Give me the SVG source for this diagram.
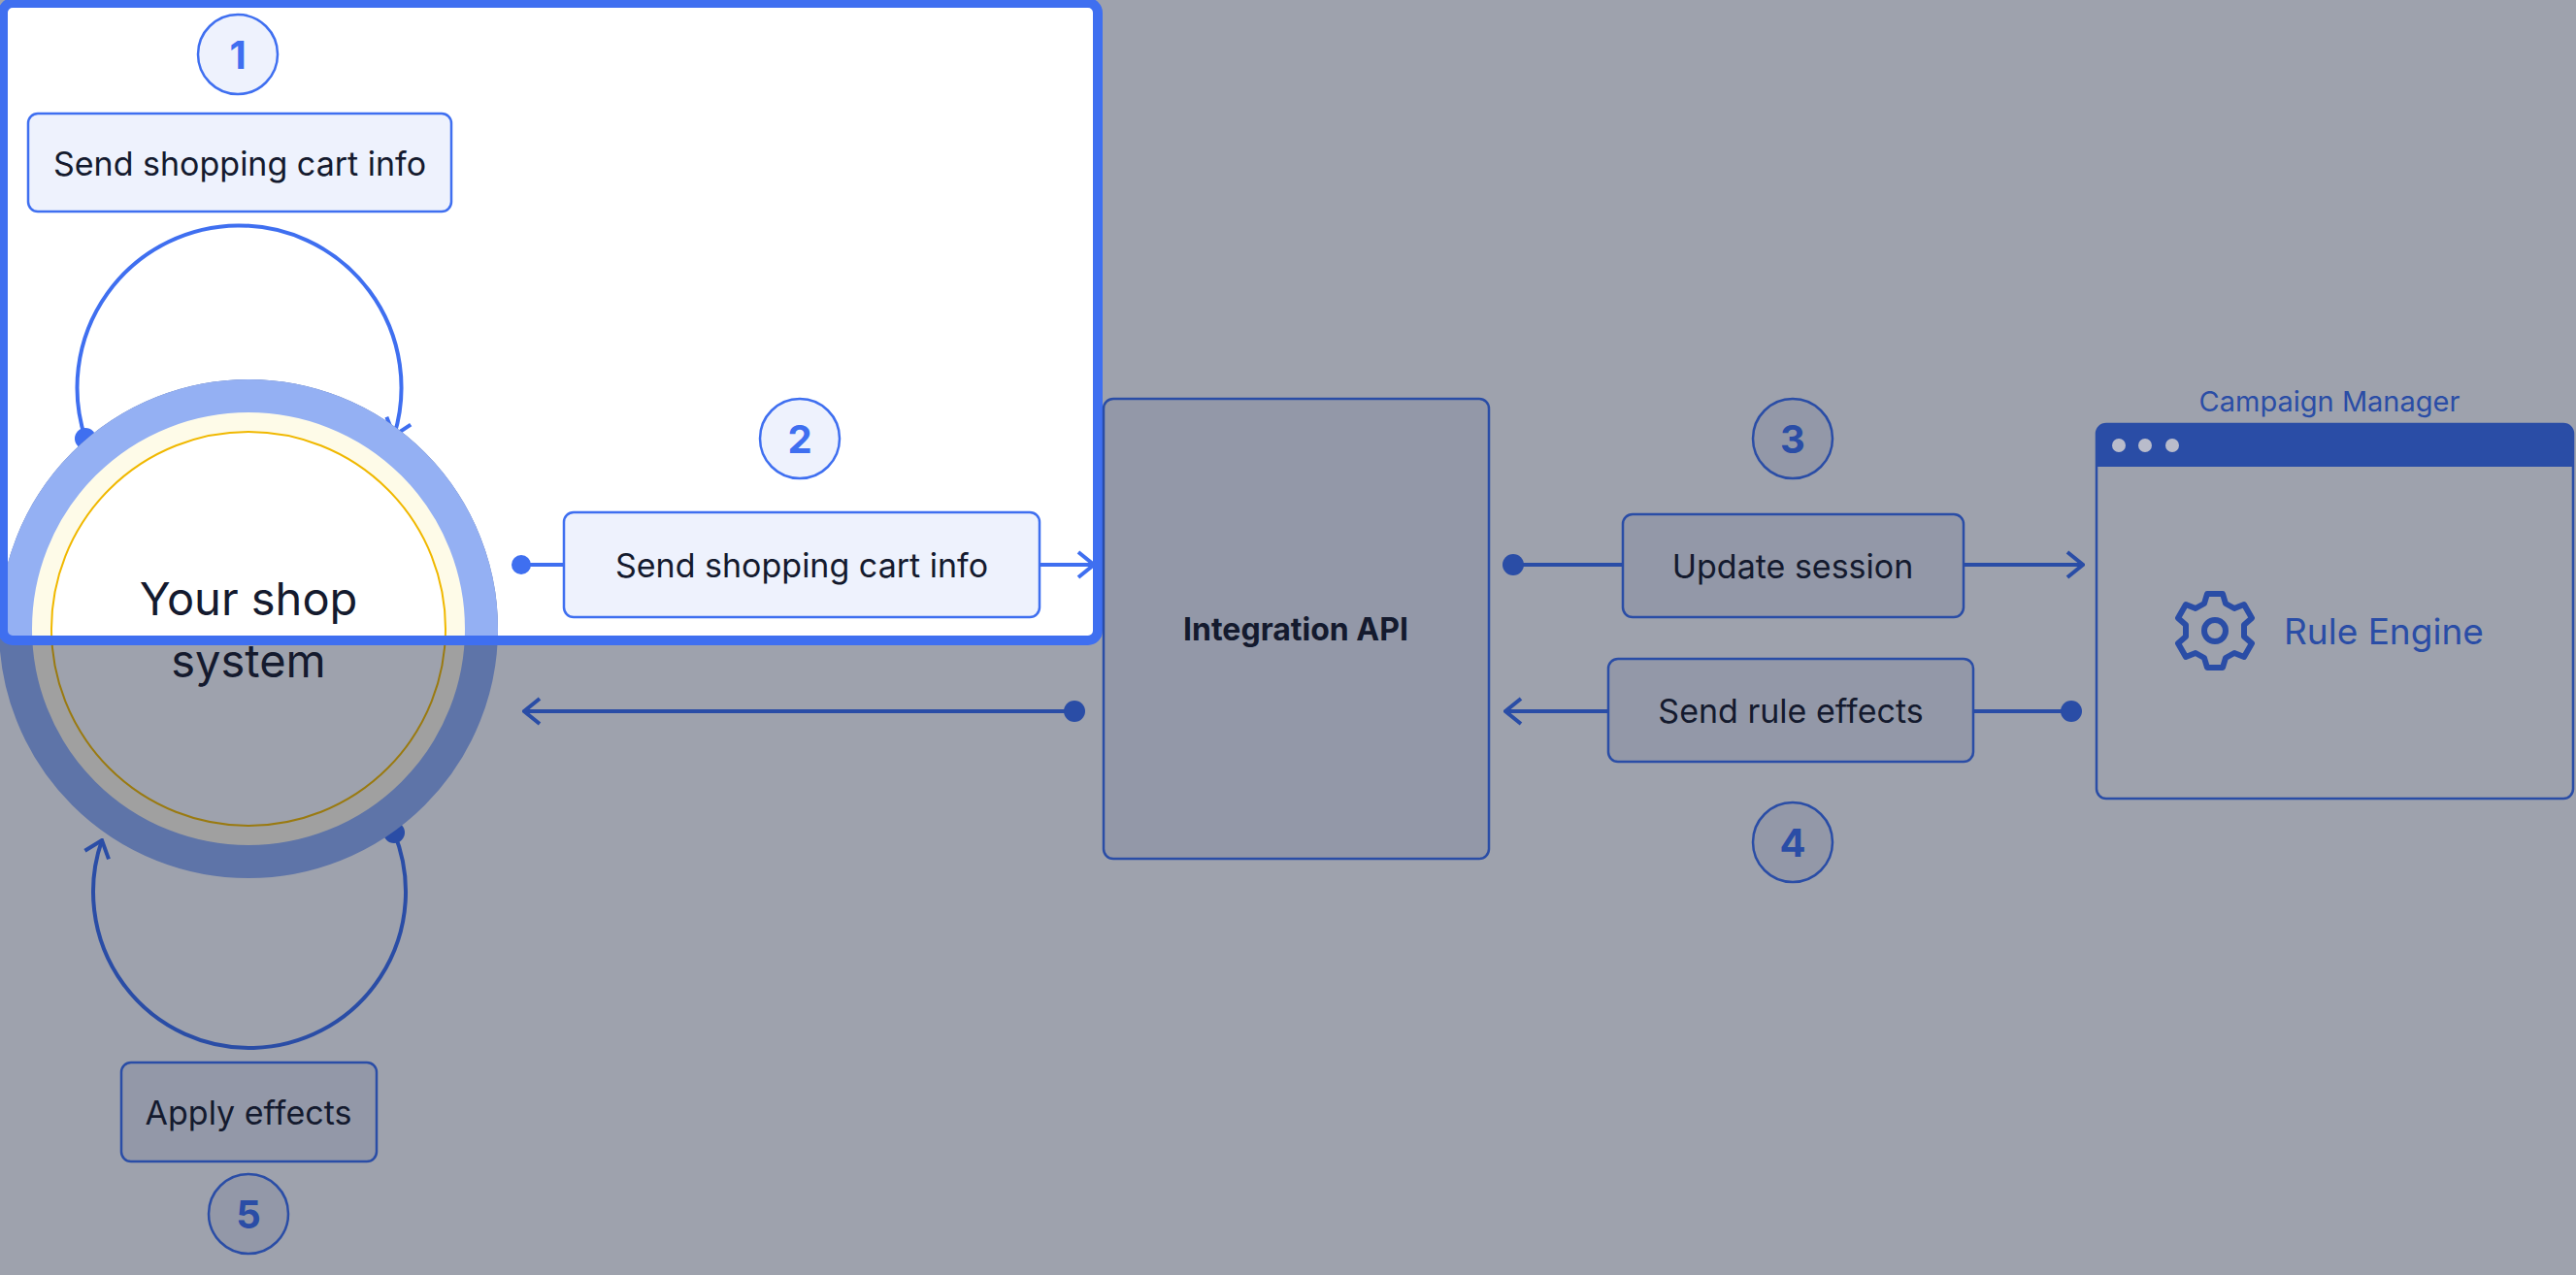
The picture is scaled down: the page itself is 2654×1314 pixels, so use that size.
<svg xmlns="http://www.w3.org/2000/svg" width="2654" height="1314" viewBox="0 0 2654 1314">
<style>
text{font-family:Inter,"Liberation Sans",sans-serif;fill:#141a2e}
.lbl{font-size:34px;text-anchor:middle;dominant-baseline:central}
.num{font-size:40px;font-weight:700;text-anchor:middle;dominant-baseline:central}
.dl{stroke:#2a4da6;stroke-width:4;fill:none}
.bl{stroke:#3f6ff0;stroke-width:4;fill:none}
.dbox{fill:#9398a8;stroke:#2a4da6;stroke-width:2.5}
.bbox{fill:#eef2fd;stroke:#3f6ff0;stroke-width:2.5}
</style>
<defs>
<marker id="ad" viewBox="0 0 20 30" refX="18" refY="15" markerWidth="20" markerHeight="30" markerUnits="userSpaceOnUse" orient="auto"><path d="M2 2 L18 15 L2 28" fill="none" stroke="#2a4da6" stroke-width="4"/></marker>
<marker id="ab" viewBox="0 0 20 30" refX="18" refY="15" markerWidth="20" markerHeight="30" markerUnits="userSpaceOnUse" orient="auto"><path d="M2 2 L18 15 L2 28" fill="none" stroke="#3f6ff0" stroke-width="4"/></marker>
<clipPath id="hl"><rect x="3" y="3" width="1128" height="657"/></clipPath>
</defs>
<rect width="2654" height="1314" fill="#9ea2ad"/>
<rect x="3" y="3" width="1128" height="657" rx="10" fill="#ffffff"/>
<g id="connectors">
<path class="bl" d="M88 452 A167 167 0 1 1 406 449" marker-end="url(#ab)"/>
<line class="bl" x1="537" y1="582" x2="1127" y2="582" marker-end="url(#ab)"/>
<circle cx="537" cy="582" r="10" fill="#3f6ff0"/>
<circle cx="88" cy="452" r="11" fill="#3f6ff0"/>
<line class="dl" x1="1107" y1="733" x2="540" y2="733" marker-end="url(#ad)"/>
<circle cx="1107" cy="733" r="11" fill="#2a4da6"/>
<line class="dl" x1="1559" y1="582" x2="2146" y2="582" marker-end="url(#ad)"/>
<circle cx="1559" cy="582" r="11" fill="#2a4da6"/>
<line class="dl" x1="2134" y1="733" x2="1551" y2="733" marker-end="url(#ad)"/>
<circle cx="2134" cy="733" r="11" fill="#2a4da6"/>
<path class="dl" d="M406 858 A161 161 0 1 1 105 866" marker-end="url(#ad)"/>
<circle cx="406" cy="858" r="11" fill="#2a4da6"/>
</g>
<g id="shop">
<circle cx="256" cy="648" r="240" fill="#a0a0a0" stroke="#5e74a8" stroke-width="34"/>
<circle cx="256" cy="648" r="203" fill="#9ea2ad" stroke="#9a7a10" stroke-width="2"/>
<g clip-path="url(#hl)">
<circle cx="256" cy="648" r="240" fill="#fefbe8" stroke="#94b0f3" stroke-width="34"/>
<circle cx="256" cy="648" r="203" fill="#ffffff" stroke="#f0b800" stroke-width="2"/>
</g>
<text x="256" y="616" font-size="47" text-anchor="middle" dominant-baseline="central">Your shop</text>
<text x="256" y="680" font-size="47" text-anchor="middle" dominant-baseline="central">system</text>
</g>
<rect x="3" y="3" width="1128" height="657" rx="10" fill="none" stroke="#3f6ff0" stroke-width="10"/>
<g id="step1">
<circle cx="245" cy="56" r="41" class="bbox"/><text class="num" x="245" y="56" style="fill:#3f6ff0">1</text>
<rect x="29" y="117" width="436" height="101" rx="10" class="bbox"/><text class="lbl" x="247" y="168">Send shopping cart info</text>
</g>
<g id="step2">
<circle cx="824" cy="452" r="41" class="bbox"/><text class="num" x="824" y="452" style="fill:#3f6ff0">2</text>
<rect x="581" y="528" width="490" height="108" rx="10" class="bbox"/><text class="lbl" x="826" y="582">Send shopping cart info</text>
</g>
<g id="api">
<rect x="1137" y="411" width="397" height="474" rx="10" class="dbox"/>
<text x="1335" y="648" font-size="32" font-weight="700" text-anchor="middle" dominant-baseline="central">Integration API</text>
</g>
<g id="step3">
<circle cx="1847" cy="452" r="41" class="dbox"/><text class="num" x="1847" y="452" style="fill:#2a4da6">3</text>
<rect x="1672" y="530" width="351" height="106" rx="10" class="dbox"/><text class="lbl" x="1847" y="583">Update session</text>
</g>
<g id="step4">
<rect x="1657" y="679" width="376" height="106" rx="10" class="dbox"/><text class="lbl" x="1845" y="732">Send rule effects</text>
<circle cx="1847" cy="868" r="41" class="dbox"/><text class="num" x="1847" y="868" style="fill:#2a4da6">4</text>
</g>
<g id="campaign">
<text x="2400" y="413" font-size="29" text-anchor="middle" dominant-baseline="central" style="fill:#2a4da6">Campaign Manager</text>
<rect x="2160" y="437" width="491" height="386" rx="10" fill="#9ea2ad" stroke="#2a4da6" stroke-width="2.5"/>
<path d="M2160 481 V447 Q2160 437 2170 437 H2641 Q2651 437 2651 447 V481 Z" fill="#2a4da6"/>
<circle cx="2183" cy="459" r="7" fill="#b9bccb"/><circle cx="2210" cy="459" r="7" fill="#b9bccb"/><circle cx="2238" cy="459" r="7" fill="#b9bccb"/>
<g transform="translate(2282 650)" fill="none" stroke="#2a4da6" stroke-width="6" stroke-linejoin="round">
<path d="M-8 -38 H8 L11 -28 L20 -23 L30 -27 L38 -13 L30 -6 V6 L38 13 L30 27 L20 23 L11 28 L8 38 H-8 L-11 28 L-20 23 L-30 27 L-38 13 L-30 6 V-6 L-38 -13 L-30 -27 L-20 -23 L-11 -28 Z"/>
<circle r="11"/>
</g>
<text x="2353" y="650" font-size="37" dominant-baseline="central" style="fill:#2a4da6">Rule Engine</text>
</g>
<g id="step5">
<rect x="125" y="1095" width="263" height="102" rx="10" class="dbox"/><text class="lbl" x="256" y="1146">Apply effects</text>
<circle cx="256" cy="1251" r="41" class="dbox"/><text class="num" x="256" y="1251" style="fill:#2a4da6">5</text>
</g>
</svg>
